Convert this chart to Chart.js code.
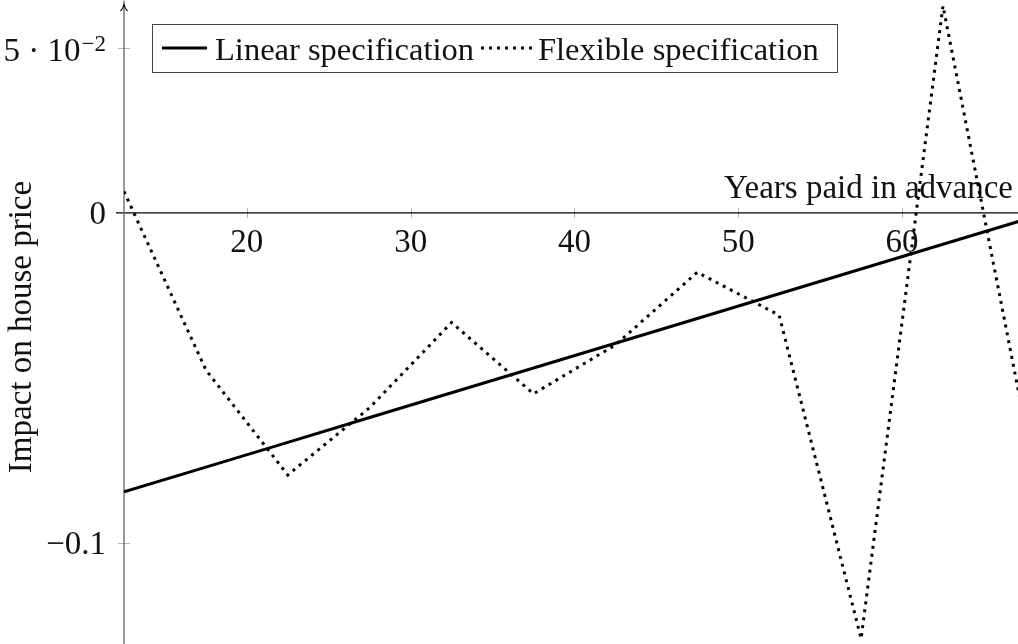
<!DOCTYPE html>
<html>
<head>
<meta charset="utf-8">
<script src="https://cdn.jsdelivr.net/npm/chart.js@4/dist/chart.umd.min.js"></script>
<style>
  html, body { margin: 0; padding: 0; background: #fff; }
  #wrap { width: 1018px; height: 644px; }
</style>
</head>
<body>
<div id="wrap"><canvas id="chart" width="1018" height="644"></canvas></div>
<script>
const years = [12.5, 17.5, 22.5, 27.5, 32.5, 37.5, 42.5, 47.5, 52.5, 57.5, 62.5, 67.5];
const linearSpec = [-0.0845, -0.077, -0.0695, -0.062, -0.0545, -0.047, -0.0395, -0.032, -0.0245, -0.017, -0.0095, -0.002];
const flexibleSpec = [0.0065, -0.0476, -0.0794, -0.059, -0.0332, -0.0548, -0.040, -0.018, -0.031, -0.129, 0.0627, -0.064];
const xTicks = [20, 30, 40, 50, 60];
const yTicks = [-0.1, 0, 0.05];
const yTickLabels = ['\u22120.1', '0', '5 \u00b7 10'];
const xTitle = 'Years paid in advance';
const yTitle = 'Impact on house price';

const FONT = '"Liberation Serif", "DejaVu Serif", serif';

function toPoints(vals) {
  return years.map((yr, i) => ({ x: yr, y: vals[i] }));
}

const pgfAxes = {
  id: 'pgfAxes',
  beforeDatasetsDraw(chart) {
    const { ctx, scales: { x, y } } = chart;
    const x0 = x.getPixelForValue(x.min);
    const y0 = y.getPixelForValue(0);
    ctx.save();

    // tick marks (cross the axis, light grey)
    ctx.strokeStyle = '#b4b4b4';
    ctx.lineWidth = 1;
    ctx.beginPath();
    xTicks.forEach(v => {
      const px = Math.round(x.getPixelForValue(v)) + 0.5;
      ctx.moveTo(px, y0 - 5);
      ctx.lineTo(px, y0 + 5);
    });
    yTicks.forEach(v => {
      if (v === 0) return;
      const py = Math.round(y.getPixelForValue(v)) + 0.5;
      ctx.moveTo(x0 - 6, py);
      ctx.lineTo(x0 + 6, py);
    });
    ctx.stroke();

    // x axis
    ctx.strokeStyle = '#000';
    ctx.lineWidth = 1.2;
    ctx.beginPath();
    ctx.moveTo(x0 - 8, y0);
    ctx.lineTo(chart.width, y0);
    ctx.stroke();

    // y axis with arrow
    ctx.strokeStyle = '#6e6e6e';
    ctx.lineWidth = 1.4;
    ctx.beginPath();
    ctx.moveTo(x0, chart.height);
    ctx.lineTo(x0, 5);
    ctx.stroke();
    ctx.lineWidth = 1.2;
    ctx.strokeStyle = '#000';
    ctx.beginPath();
    ctx.moveTo(x0 - 3.5, 11);
    ctx.quadraticCurveTo(x0 - 0.5, 8, x0, 4);
    ctx.quadraticCurveTo(x0 + 0.5, 8, x0 + 3.5, 11);
    ctx.stroke();

    // tick labels
    ctx.fillStyle = '#111';
    ctx.font = '33px ' + FONT;
    ctx.textBaseline = 'alphabetic';
    ctx.textAlign = 'center';
    xTicks.forEach(v => {
      ctx.fillText(String(v), x.getPixelForValue(v), 252);
    });

    ctx.textAlign = 'right';
    yTicks.forEach((v, i) => {
      const py = y.getPixelForValue(v);
      if (v === 0.05) {
        ctx.font = '23px ' + FONT;
        const sup = '\u22122';
        const supW = ctx.measureText(sup).width;
        ctx.fillText(sup, 106, py + 3);
        ctx.font = '33px ' + FONT;
        ctx.fillText(yTickLabels[i], 106 - supW - 1, py + 13);
      } else {
        ctx.fillText(yTickLabels[i], 106, py + 11);
      }
    });

    // axis titles
    ctx.fillText(xTitle, 1013, 198);
    ctx.save();
    ctx.translate(31, 327);
    ctx.rotate(-Math.PI / 2);
    ctx.textAlign = 'center';
    ctx.fillText(yTitle, 0, 0);
    ctx.restore();

    ctx.restore();
  },
  afterDraw(chart) {
    const { ctx } = chart;
    const ds = chart.data.datasets;
    ctx.save();
    ctx.fillStyle = '#fff';
    ctx.fillRect(152, 24, 685, 48);
    ctx.strokeStyle = '#444';
    ctx.lineWidth = 1;
    ctx.strokeRect(152.5, 24.5, 685, 48);

    const samples = [[162, 207, 215], [481, 533, 538]];
    ds.forEach((d, i) => {
      const [a, b, tx] = samples[i];
      ctx.strokeStyle = d.borderColor;
      ctx.lineWidth = d.borderWidth;
      ctx.lineCap = 'butt';
      ctx.setLineDash(d.borderDash || []);
      ctx.beginPath();
      ctx.moveTo(a, 48);
      ctx.lineTo(b, 48);
      ctx.stroke();
      ctx.setLineDash([]);
      ctx.fillStyle = '#111';
      ctx.font = '32.5px ' + FONT;
      ctx.textAlign = 'left';
      ctx.fillText(d.label, tx, 60);
    });
    ctx.restore();
  }
};

new Chart(document.getElementById('chart').getContext('2d'), {
  type: 'line',
  data: {
    datasets: [
      {
        label: 'Linear specification',
        data: toPoints(linearSpec),
        borderColor: '#000',
        borderWidth: 3,
        pointRadius: 0,
        tension: 0,
        fill: false
      },
      {
        label: 'Flexible specification',
        data: toPoints(flexibleSpec),
        borderColor: '#000',
        borderWidth: 3,
        borderDash: [3, 5],
        borderCapStyle: 'butt',
        pointRadius: 0,
        tension: 0,
        fill: false
      }
    ]
  },
  options: {
    responsive: false,
    animation: false,
    devicePixelRatio: 1,
    layout: { padding: { left: 124, top: 0, right: 0, bottom: 0 } },
    plugins: {
      legend: { display: false },
      tooltip: { enabled: false }
    },
    scales: {
      x: { type: 'linear', min: 12.5, max: 67.08, display: false },
      y: { type: 'linear', min: -0.1306, max: 0.0645, display: false }
    }
  },
  plugins: [pgfAxes]
});
</script>
</body>
</html>
